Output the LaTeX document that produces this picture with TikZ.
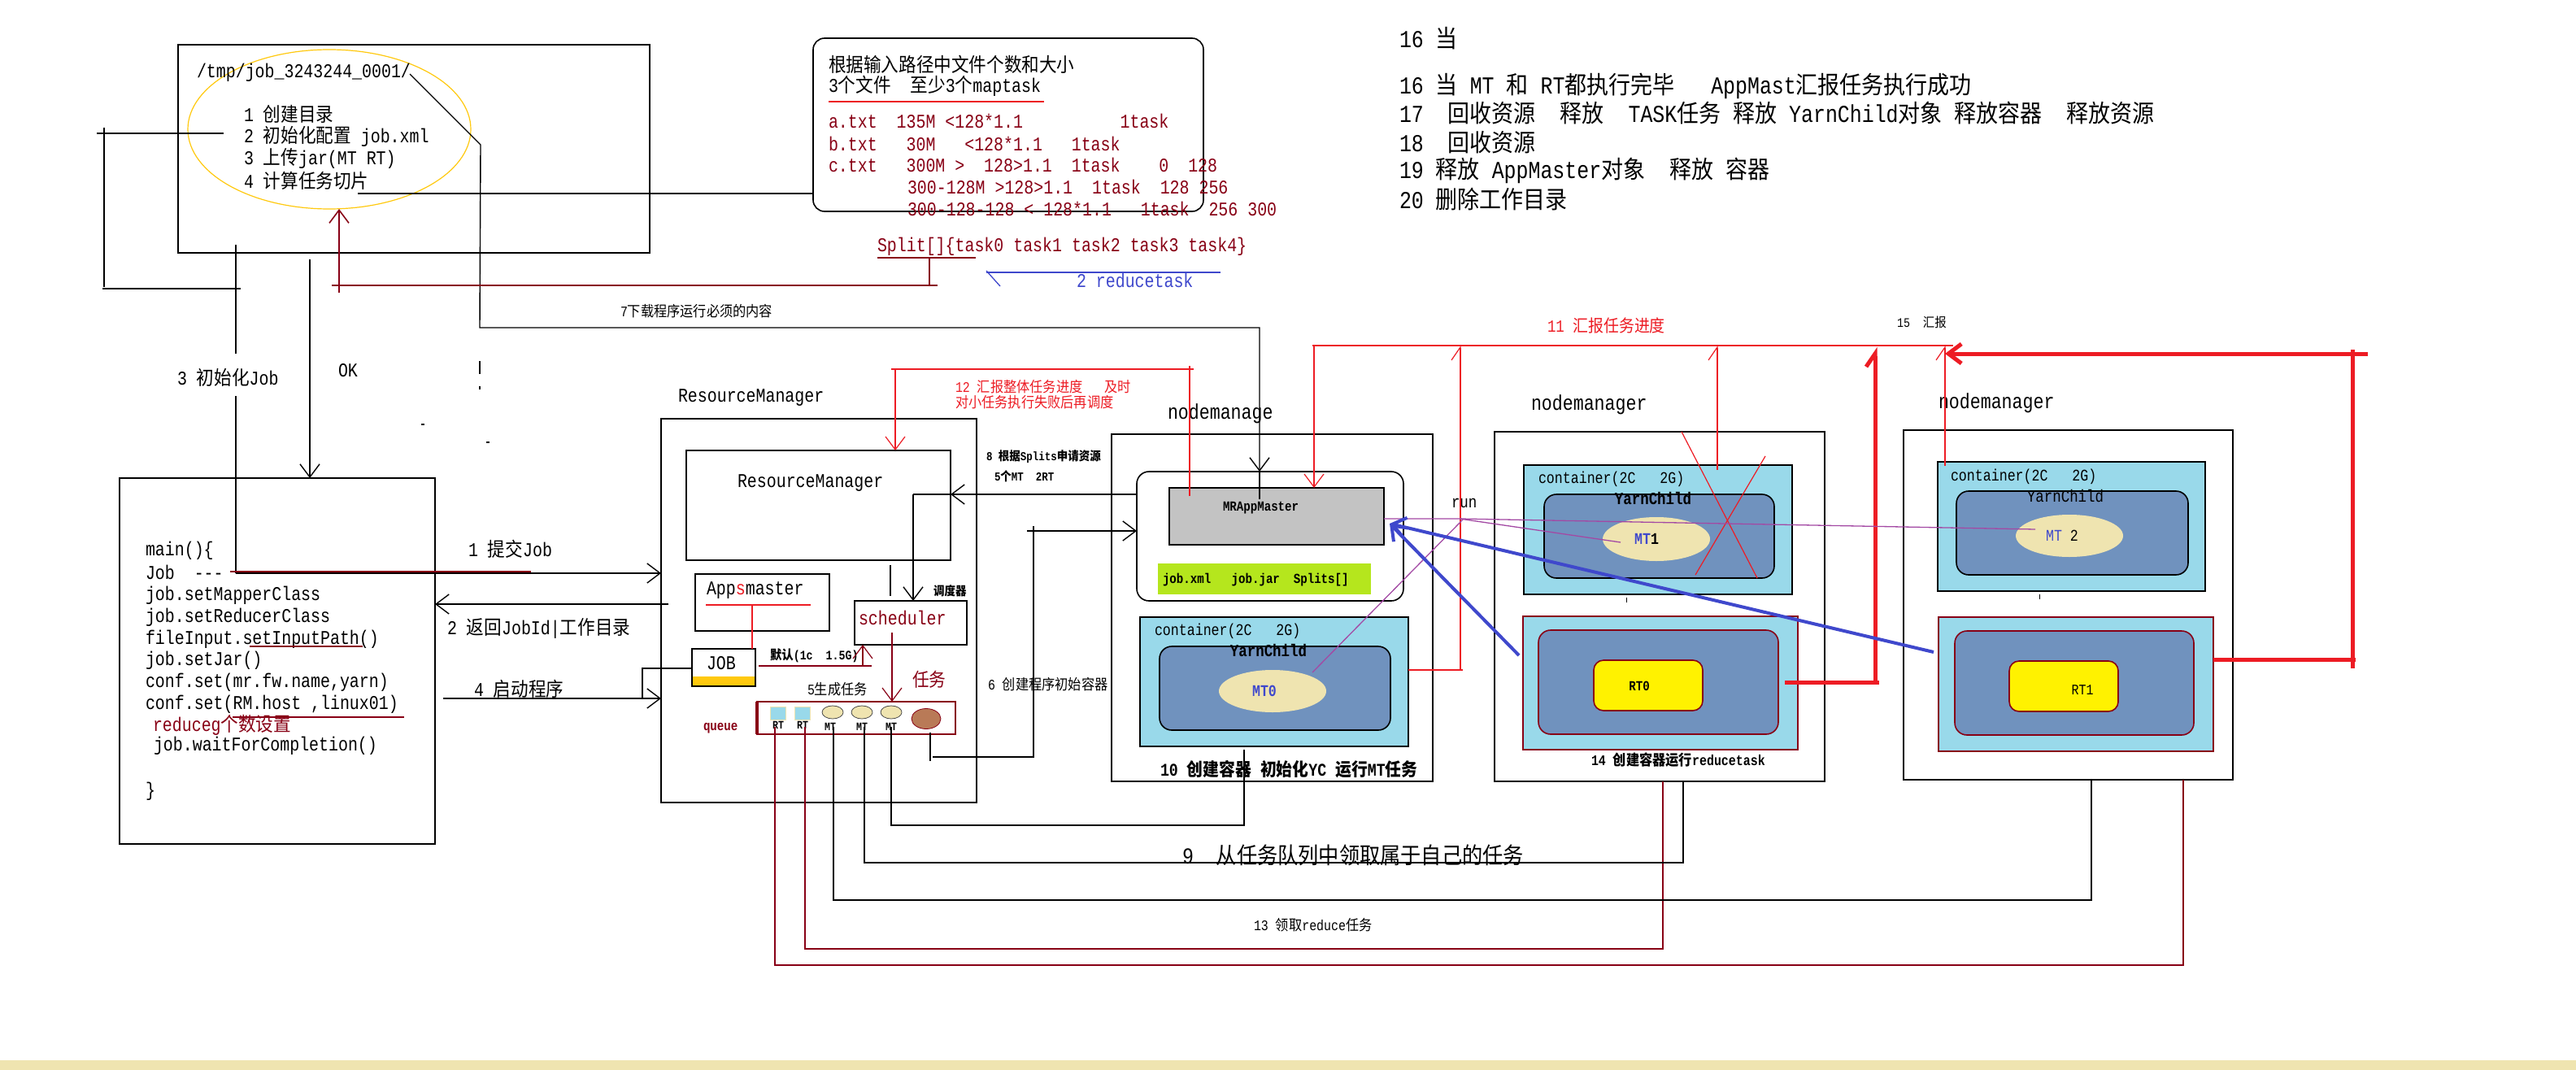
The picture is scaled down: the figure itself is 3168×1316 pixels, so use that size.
\documentclass[tikz,border=0pt]{standalone}
\usepackage{fontspec}
\setmainfont{Liberation Mono}[FakeStretch=0.83]
\newfontfamily\zhfont{Noto Sans CJK SC}[FakeStretch=0.9]
\usetikzlibrary{arrows.meta,shapes.geometric}
\XeTeXinterchartokenstate=1
\newcount\cjkc
\cjkc="21 \loop \XeTeXcharclass\cjkc=0 \advance\cjkc by 1 \ifnum\cjkc<"7F \repeat
\cjkc="2E80 \loop \XeTeXcharclass\cjkc=7 \advance\cjkc by 1 \ifnum\cjkc<"A000 \repeat
\cjkc="FF00 \loop \XeTeXcharclass\cjkc=7 \advance\cjkc by 1 \ifnum\cjkc<"FFF0 \repeat
\XeTeXinterchartoks 0 7 = {\zhfont}
\XeTeXinterchartoks 4095 7 = {\zhfont}
\XeTeXinterchartoks 7 0 = {\rmfamily}
\XeTeXinterchartoks 7 4095 = {\rmfamily}
\newcommand\fzs[1]{\fontsize{#1}{#1}\selectfont}
\definecolor{dred}{HTML}{880015}
\definecolor{redA}{HTML}{ED1C24}
\definecolor{blueA}{HTML}{3F48CC}
\definecolor{purp}{HTML}{A349A4}
\definecolor{lblue}{HTML}{99D9EA}
\definecolor{steel}{HTML}{7092BE}
\definecolor{beige}{HTML}{EFE4B0}
\definecolor{yelA}{HTML}{FFF200}
\definecolor{orng}{HTML}{FFC90E}
\definecolor{grnA}{HTML}{B5E61D}
\definecolor{grayA}{HTML}{C3C3C3}
\definecolor{brwn}{HTML}{B97A57}
\tikzset{
  box/.style={draw, line width=1.6pt, anchor=north west, inner sep=0pt, outer sep=0pt},
  lbl/.style={anchor=west, inner sep=0pt, outer sep=0pt, font=\fzs{24}},
  ctr/.style={inner sep=0pt, outer sep=0pt},
  arr/.style={-{Straight Barb[length=16pt,width=24pt]}},
  harr/.style={-{Straight Barb[harpoon,length=16pt,width=22pt]}},
  thinred/.style={redA, line width=1.2pt},
  thickred/.style={redA, line width=5pt},
  dline/.style={dred, line width=1.6pt},
  pline/.style={purp, line width=1.3pt},
  bline/.style={blueA, line width=4pt},
}
\begin{document}
\begin{tikzpicture}[x=1pt,y=-1pt,line width=1.4pt]
\path[use as bounding box, fill=white] (0,0) rectangle (3168,1316);
\fill[beige] (0,1304) rectangle (3168,1316);

% ---------- box 1 ----------
\node[box, minimum width=580pt, minimum height=256pt] (box1) at (219,55) {};
\node[draw=orng, line width=1.2pt, ellipse, minimum width=348pt, minimum height=196pt, ctr] (ell1) at (405,159) {};
\node[lbl] (b1t0) at (242,89) {/tmp/job\_3243244\_0001/};
\node[lbl] (b1t1) at (300,140) {1 创建目录};
\node[lbl] (b1t2) at (300,168) {2 初始化配置 job.xml};
\node[lbl] (b1t3) at (300,195) {3 上传jar(MT RT)};
\node[lbl] (b1t4) at (300,222) {4 计算任务切片};

% ---------- box 2 ----------
\node[box, rounded corners=14pt, minimum width=480pt, minimum height=213pt] (box2) at (1000,47) {};
\node[lbl] (b2t1) at (1019,79) {根据输入路径中文件个数和大小};
\node[lbl] (b2t2) at (1019,106) {3个文件~~至少3个maptask};
\draw[thinred] (1019,125) -- (1284,125);
\node[lbl, text=dred] (b2a) at (1019,149) {a.txt~~135M~<128*1.1~~~~~~~~~~1task};
\node[lbl, text=dred] (b2b) at (1019,177) {b.txt~~~30M~~~<128*1.1~~~1task};
\node[lbl, text=dred] (b2c) at (1019,203) {c.txt~~~300M~>~~128>1.1~~1task~~~~0~~128};
\node[lbl, text=dred] (b2d) at (1116,230) {300-128M~>128>1.1~~1task~~128~256};
\node[lbl, text=dred] (b2e) at (1116,257) {300-128-128~<~128*1.1~~~1task~~256~300};
\node[lbl, text=dred] (split) at (1079,303) {Split[]\{task0~task1~task2~task3~task4\}};
\draw[dline] (1079,317) -- (1200,317);
\node[lbl, text=blueA] (redt) at (1324,345) {2~reducetask};
\draw[blueA, line width=1.3pt] (1213,335) -- (1501,335);
\draw[blueA, line width=1.3pt] (1213,333) -- (1230,352);

% ---------- right notes ----------
\node[lbl, font=\fzs{30}] (n16a) at (1721,47) {16 当};
\node[lbl, font=\fzs{30}] (n16) at (1721,106) {16 当 MT 和 RT都执行完毕~~~AppMast汇报任务执行成功};
\node[lbl, font=\fzs{30}] (n17) at (1721,139) {17~~回收资源~~释放~~TASK任务 释放 YarnChild对象 释放容器~~释放资源};
\node[lbl, font=\fzs{30}] (n18) at (1721,175) {18~~回收资源};
\node[lbl, font=\fzs{30}] (n19) at (1721,210) {19 释放 AppMaster对象~~释放 容器};
\node[lbl, font=\fzs{30}] (n20) at (1721,245) {20 删除工作目录};

% ---------- main box ----------
\node[box, minimum width=388pt, minimum height=450pt] (mainb) at (147,588) {};
\node[lbl] (m1) at (179,677) {main()\{};
\node[lbl] (m2) at (179,704) {Job~~-{}-{}-};
\node[lbl] (m3) at (179,732) {job.setMapperClass};
\node[lbl] (m4) at (179,759) {job.setReducerClass};
\node[lbl] (m5) at (179,786) {fileInput.setInputPath()};
\node[lbl] (m6) at (179,812) {job.setJar()};
\node[lbl] (m7) at (179,839) {conf.set(mr.fw.name,yarn)};
\node[lbl] (m8) at (179,866) {conf.set(RM.host ,linux01)};
\node[lbl, text=dred] (m9) at (188,892) {reduceg个数设置};
\node[lbl] (m10) at (189,917) {job.waitForCompletion()};
\node[lbl] (m11) at (179,973) {\}};
\draw[dline, line width=1.2pt] (307,795) -- (446,795);
\draw[dline, line width=1.2pt] (286,882) -- (497,882);
\node[lbl] (l3) at (218,464) {3 初始化Job};
\node[lbl] (lok) at (416,456) {OK};
\node[lbl] (l1) at (576,675) {1 提交Job};
\node[lbl] (l2) at (550,773) {2 返回JobId|工作目录};
\node[lbl] (l4) at (583,847) {4 启动程序};

% ---------- ResourceManager ----------
\node[lbl] (rmlbl) at (834,489) {ResourceManager};
\node[box, minimum width=388pt, minimum height=472pt] (rmout) at (813,515) {};
\node[box, minimum width=325pt, minimum height=135pt] (rmin) at (844,554) {};
\node[lbl] (rmtxt) at (907,594) {ResourceManager};
\node[box, minimum width=165pt, minimum height=70pt] (apps) at (855,706) {};
\node[lbl] (appst) at (869,726) {App{\color{redA}s}master};
\node[box, minimum width=138pt, minimum height=54pt] (sched) at (1051,739) {};
\node[lbl, text=dred] (schedt) at (1056,760) {scheduler};
\node[lbl, font=\fzs{15}\bfseries] (ddq) at (1148,727) {调度器};
\fill[orng] (851,832) rectangle (929,844);
\node[box, minimum width=78pt, minimum height=46pt] (job) at (851,798) {};
\node[lbl] (jobt) at (869,816) {JOB};
\node[lbl, font=\fzs{16}\bfseries] (mr) at (947,806) {默认(1c~~1.5G)};
\node[lbl, font=\fzs{23}, text=dred] (rw) at (1122,836) {任务};
\node[lbl, font=\fzs{18}] (gen) at (993,848) {5生成任务};
\node[lbl, font=\fzs{17}\bfseries, text=dred] (qt) at (865,896) {queue};
\node[box, draw=dred, minimum width=244pt, minimum height=40pt] (queue) at (931,863) {};
\draw[dred, line width=3.5pt] (queue.north west) -- (queue.south west);
\node[box, draw=beige, line width=1pt, fill=lblue, minimum width=19pt, minimum height=16pt] (qr1) at (947,869) {};
\node[box, draw=beige, line width=1pt, fill=lblue, minimum width=19pt, minimum height=16pt] (qr2) at (977,869) {};
\node[ellipse, draw=black!70, line width=0.8pt, fill=beige, minimum width=26pt, minimum height=16pt, ctr] (qm1) at (1024,876) {};
\node[ellipse, draw=black!70, line width=0.8pt, fill=beige, minimum width=26pt, minimum height=16pt, ctr] (qm2) at (1060,876) {};
\node[ellipse, draw=black!70, line width=0.8pt, fill=beige, minimum width=26pt, minimum height=16pt, ctr] (qm3) at (1096,876) {};
\node[ellipse, draw=dred, line width=0.8pt, fill=brwn, minimum width=36pt, minimum height=25pt, ctr] (qb) at (1139,884) {};
\node[ctr, font=\fzs{14}\bfseries] (qrl1) at (957,892) {RT};
\node[ctr, font=\fzs{14}\bfseries] (qrl2) at (987,892) {RT};
\node[ctr, font=\fzs{14}\bfseries] (qml1) at (1021,894) {MT};
\node[ctr, font=\fzs{14}\bfseries] (qml2) at (1060,894) {MT};
\node[ctr, font=\fzs{14}\bfseries] (qml3) at (1096,894) {MT};
\node[lbl, font=\fzs{15}\bfseries] (l8a) at (1213,562) {8 根据Splits申请资源};
\node[lbl, font=\fzs{15}\bfseries] (l8b) at (1223,586) {5个MT~~2RT};
\node[lbl, font=\fzs{18}] (l6) at (1215,842) {6 创建程序初始容器};
\node[lbl, font=\fzs{18}, text=redA] (l12a) at (1175,476) {12 汇报整体任务进度~~~及时};
\node[lbl, font=\fzs{18}, text=redA] (l12b) at (1175,495) {对小任务执行失败后再调度};
\node[lbl, font=\fzs{18}] (l7) at (763,383) {7下载程序运行必须的内容};

% ---------- nodemanage 1 ----------
\node[lbl, font=\fzs{26}] (nm1l) at (1436,509) {nodemanage};
\node[box, minimum width=395pt, minimum height=427pt] (nm1) at (1367,534) {};
\node[box, rounded corners=15pt, minimum width=328pt, minimum height=159pt] (rnd) at (1398,580) {};
\node[box, fill=grayA, minimum width=264pt, minimum height=70pt] (mram) at (1438,600) {};
\node[lbl, font=\fzs{17}\bfseries] (mramt) at (1504,625) {MRAppMaster};
\node[anchor=north west, ctr, fill=grnA, minimum width=262pt, minimum height=38pt] (grn) at (1424,693) {};
\node[lbl, font=\fzs{17}\bfseries] (grnt) at (1430,713) {job.xml~~~job.jar~~Splits[]};
\node[box, fill=lblue, minimum width=330pt, minimum height=159pt] (c0) at (1402,759) {};
\node[box, fill=steel, rounded corners=15pt, minimum width=284pt, minimum height=103pt] (c0in) at (1426,795) {};
\node[ellipse, fill=beige, minimum width=132pt, minimum height=52pt, ctr] (mt0) at (1565,850) {};
\node[lbl, font=\fzs{20}] (c0t) at (1420,776) {container(2C~~~2G)};
\node[ctr, font=\fzs{21}\bfseries] (yc0) at (1560,800) {YarnChild};
\node[ctr, font=\fzs{20}\bfseries, text=blueA] (mt0t) at (1555,850) {MT0};
\node[lbl, font=\fzs{22}\bfseries] (l10) at (1427,946) {10 创建容器 初始化YC 运行MT任务};

% ---------- nodemanager 2 ----------
\node[lbl, font=\fzs{26}] (nm2l) at (1883,498) {nodemanager};
\node[box, minimum width=406pt, minimum height=430pt] (nm2) at (1838,531) {};
\node[box, fill=lblue, minimum width=330pt, minimum height=159pt] (c1) at (1874,572) {};
\node[box, fill=steel, rounded corners=15pt, minimum width=283pt, minimum height=103pt] (c1in) at (1899,608) {};
\node[ellipse, fill=beige, minimum width=132pt, minimum height=54pt, ctr] (mt1) at (2037,663) {};
\node[lbl, font=\fzs{20}] (c1t) at (1892,589) {container(2C~~~2G)};
\node[ctr, font=\fzs{21}\bfseries] (yc1) at (2033,613) {YarnChild};
\node[ctr, font=\fzs{20}\bfseries] (mt1t) at (2025,663) {{\color{blueA}MT}1};
\node[box, draw=dred, fill=lblue, minimum width=338pt, minimum height=164pt] (r0c) at (1873,758) {};
\node[box, draw=dred, fill=steel, rounded corners=15pt, minimum width=295pt, minimum height=128pt] (r0in) at (1892,775) {};
\node[box, draw=dred, fill=yelA, rounded corners=12pt, minimum width=134pt, minimum height=62pt] (r0y) at (1960,812) {};
\node[ctr, font=\fzs{17}\bfseries] (rt0t) at (2016,844) {RT0};
\node[lbl, font=\fzs{18}\bfseries] (l14) at (1957,935) {14 创建容器运行reducetask};
\draw[line width=1pt] (2000,735) -- (2000,741);

% ---------- nodemanager 3 ----------
\node[lbl, font=\fzs{26}] (nm3l) at (2384,496) {nodemanager};
\node[box, minimum width=405pt, minimum height=430pt] (nm3) at (2341,529) {};
\node[box, fill=lblue, minimum width=329pt, minimum height=159pt] (c2) at (2383,568) {};
\node[box, fill=steel, rounded corners=15pt, minimum width=285pt, minimum height=103pt] (c2in) at (2406,604) {};
\node[ellipse, fill=beige, minimum width=132pt, minimum height=52pt, ctr] (mt2) at (2545,659) {};
\node[lbl, font=\fzs{20}] (c2t) at (2399,586) {container(2C~~~2G)};
\node[ctr, font=\fzs{21}] (yc2) at (2540,610) {YarnChild};
\node[ctr, font=\fzs{20}] (mt2t) at (2536,659) {{\color{blueA}MT}~2};
\node[box, draw=dred, fill=lblue, minimum width=338pt, minimum height=165pt] (r1c) at (2384,759) {};
\node[box, draw=dred, fill=steel, rounded corners=15pt, minimum width=294pt, minimum height=128pt] (r1in) at (2404,776) {};
\node[box, draw=dred, fill=yelA, rounded corners=12pt, minimum width=134pt, minimum height=62pt] (r1y) at (2471,813) {};
\node[ctr, font=\fzs{18}] (rt1t) at (2561,849) {RT1};
\draw[line width=1pt] (2508,731) -- (2508,737);

% ---------- labels on top ----------
\node[lbl, font=\fzs{21}, text=redA] (l11) at (1903,400) {11 汇报任务进度};
\node[lbl, font=\fzs{16}] (l15) at (2333,396) {15~~汇报};
\node[lbl, font=\fzs{21}] (lrun) at (1785,619) {run};
\node[lbl, font=\fzs{28}] (l9) at (1454,1052) {9~~从任务队列中领取属于自己的任务};
\node[lbl, font=\fzs{18}] (l13) at (1542,1138) {13 领取reduce任务};

% ---------- connectors ----------
% 7 download
\coordinate (p7a) at (504,91);
\draw[arr] (p7a) -- (591,178) -- (590,403) -- (1549,403) -- (1549,0 |- rnd.north);
\draw (1549,0 |- rnd.north) -- (1549,614);
\draw (590,444) -- (590,460);
\draw (590,475) -- (590,479);
\draw (518,522) -- (522,522);
\draw (598,544) -- (602,544);
% 3 init job / 1 submit
\coordinate (jobref) at (290,705);
\coordinate (b1in) at (275,164);
\draw (b1in) -- (119,164);
\draw (128,157) -- (128,353);
\draw (126,355) -- (296,355);
\draw (290,301) -- (290,435);
\draw (290,487) -- (jobref);
\draw[arr] (jobref) -- (rmout.west |- jobref);
\draw[dline] (283,703) -- (653,703);
% OK
\draw[arr] (381,319) -- (381,0 |- mainb.north);
% 2 return
\draw[arr] (822,743) -- (mainb.east |- 0,743);
% 4 start
\draw[arr] (545,859) -- (rmout.west |- 0,859);
\draw (790,859) -- (790,822) -- (job.west |- 0,822);
% split -> ellipse
\draw[dline] (1143,317) -- (1143,351);
\draw[dline] (1153,351) -- (408,351);
\draw[dline, arr] (417,360) -- (417,0 |- ell1.south);
% 4 -> box2
\draw (440,238) -- (box2.west |- 0,238);
% 12
\draw[thinred] (1463,610) -- (1463,450);
\draw[thinred] (1468,454) -- (1096,454);
\draw[thinred, arr] (1101,454) -- (1101,0 |- rmin.north);
% 8
\draw[arr] (rnd.west |- 0,608) -- (rmin.east |- 0,608);
\draw (rmin.east |- 0,608) -- (1123,608);
\draw[arr] (1123,608) -- (1123,0 |- sched.north);
\draw (1095,695) -- (1095,733);
% appsmaster / job / scheduler
\draw[thinred] (868,744) -- (997,744);
\draw[thinred] (925,744) -- (925,0 |- job.north);
\draw[dline] (933,819) -- (1072,819);
\draw[dline, line width=1.2pt, arr] (1061,819) -- (1061,0 |- sched.south);
\draw[dline, line width=1.2pt, arr] (1097,778) -- (1097,0 |- queue.north);
% queue -> nodes
\draw[dline, line width=1.3pt] (953,894) -- (953,1187) -- (2685,1187) -- (2685,0 |- nm3.south);
\draw[dline, line width=1.3pt] (990,894) -- (990,1167) -- (2045,1167) -- (2045,0 |- nm2.south);
\draw (1025,894) -- (1025,1107) -- (2572,1107) -- (2572,0 |- nm3.south);
\draw (1063,894) -- (1063,1061) -- (2070,1061) -- (2070,0 |- nm2.south);
\draw (1096,894) -- (1096,1015) -- (1530,1015) -- (1530,922);
% 6
\draw (1144,901) -- (1144,936);
\draw (1147,931) -- (1271,931) -- (1271,647);
\draw[arr] (1263,653) -- (rnd.west |- 0,653);
% 11
\draw[thinred] (1614,425) -- (2402,425);
\draw[thinred, arr] (1616,425) -- (1616,0 |- mram.north);
\draw[thinred] (c0.east |- 0,824) -- (1799,824);
\draw[thinred, harr] (1796,824) -- (1796,425);
\draw[thinred, harr] (2112,578) -- (2112,425);
\draw[thinred, harr] (2392,573) -- (2392,425);
\draw[thinred] (2068,531) -- (2161,711);
\draw[thinred] (2171,561) -- (2085,707);
% 14/15 thick red
\draw[thickred] (2195,839) -- (2311,839);
\draw[thickred, harr] (2306,839) -- (2306,427);
\draw[thickred] (r1c.east |- 0,811) -- (2897,811);
\draw[thickred] (2893,822) -- (2893,430);
\draw[thickred, arr] (2912,435) -- (2392,435);
% purple run
\draw[pline] (mram.east |- 0,638) -- (1795,638) -- (2503,651);
\draw[pline] (1795,638) -- (1993,667);
\draw[pline] (1799,639) -- (1614,827);
% blue
\coordinate (bt) at (1709,644);
\coordinate (bs1) at (2378,802);
\coordinate (bs2) at (1868,806);
\draw[bline, arr] (bs1) -- (bt);
\draw[bline, arr] (bs2) -- (bt);
\end{tikzpicture}
\end{document}
